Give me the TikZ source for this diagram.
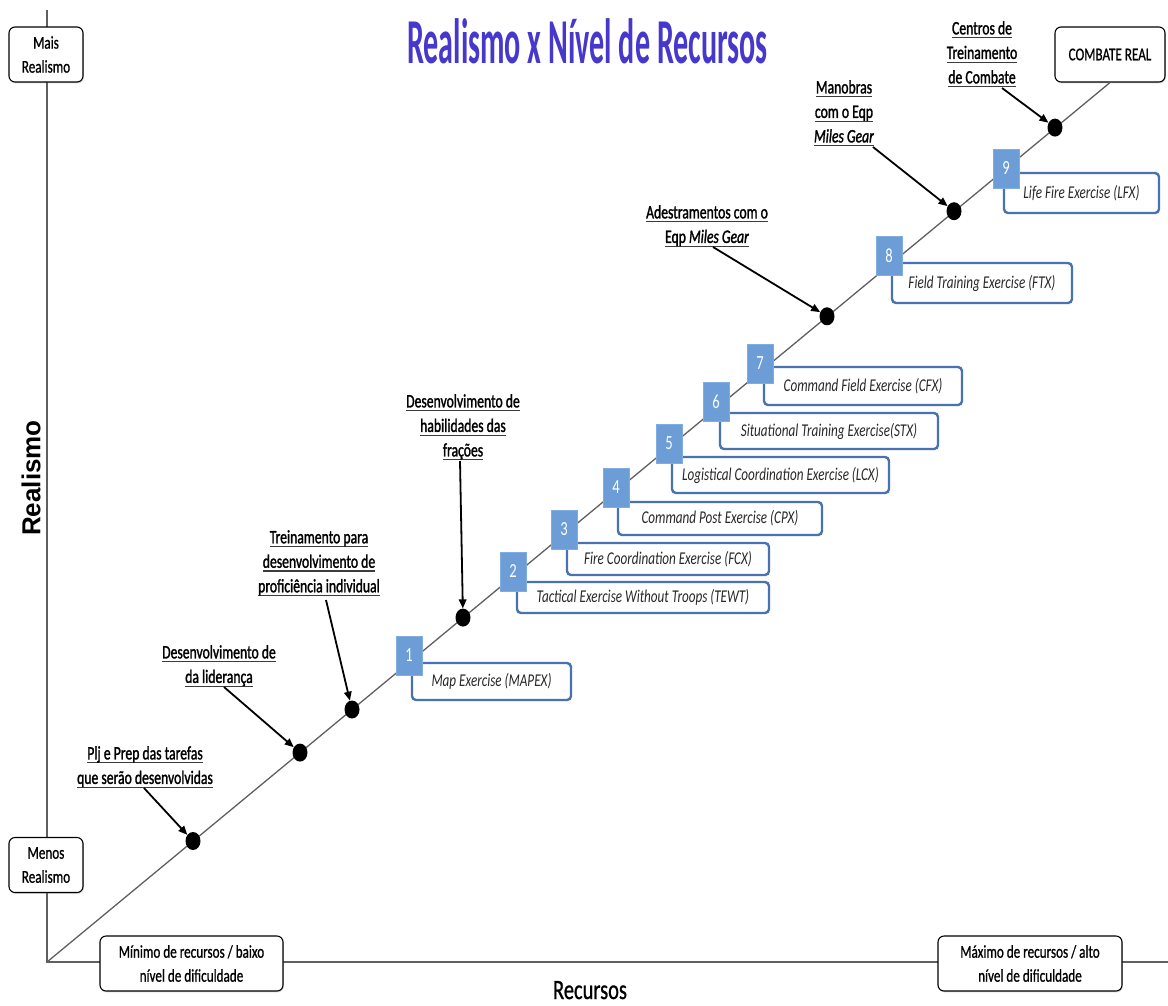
\documentclass[tikz,border=0pt]{standalone}
\usepackage{fontspec}
\setmainfont{Carlito}[FakeStretch=0.73]
\newfontfamily\annfont{Carlito}[FakeStretch=0.72,FakeBold=1.4]
\newfontfamily\boxfont{Carlito}[FakeStretch=0.73,FakeBold=0.8]
\newfontfamily\titlefont{Carlito}[FakeStretch=0.47]
\newfontfamily\axisfont{Liberation Sans}
\usetikzlibrary{arrows.meta,shadows,shapes.geometric}

\definecolor{titleblue}{RGB}{70,55,205}
\definecolor{numfill}{RGB}{108,157,214}
\definecolor{numedge}{RGB}{128,172,224}
\definecolor{labeledge}{RGB}{72,115,176}
\definecolor{labtext}{RGB}{40,40,40}
\definecolor{axisgray}{RGB}{95,95,95}
\definecolor{ulgray}{RGB}{60,60,60}

% underline drawn at a fixed depth below the baseline
\newcommand\ulx[1]{\leavevmode\setbox0\hbox{#1}\rlap{\textcolor{ulgray}{\rule[-4pt]{\wd0}{1.3pt}}}\box0}

\begin{document}
\begin{tikzpicture}[x=1pt,y=-1pt,
  axis/.style={draw=axisgray,line width=1.4pt},
  diag/.style={draw=axisgray,line width=1.3pt},
  endbox/.style={draw=black,line width=1.1pt,rounded corners=6pt,fill=white,
    align=center,inner sep=0pt,font=\boxfont\fontsize{18}{24}\selectfont,
    drop shadow={shadow xshift=0.8pt,shadow yshift=-1.4pt,opacity=0.3}},
  labbox/.style={draw=labeledge,line width=2.4pt,rounded corners=4pt,fill=white,
    inner sep=0pt,text=labtext,font=\itshape\fontsize{18}{20}\selectfont},
  numbox/.style={draw=numedge,line width=0.8pt,fill=numfill,text=white,
    minimum width=26pt,minimum height=39pt,inner sep=0pt,
    font=\fontsize{20}{20}\selectfont},
  dotnode/.style={ellipse,fill=black,minimum width=15pt,minimum height=18pt,inner sep=0pt},
  ptr/.style={draw=black,line width=1.8pt,-{Triangle[length=9pt,width=7.5pt]}},
  ann/.style={align=center,anchor=north,inner sep=0pt,font=\annfont\fontsize{19}{24.5}\selectfont}]
\useasboundingbox (0,0) rectangle (1168,1005);

% axes
\coordinate (o) at (47,962);
\coordinate (ytop) at (47,10);
\coordinate (xend) at (1168,962);
\draw[axis] (ytop) -- (o) -- (xend);

% boxes on the axes
\node[endbox,minimum width=74pt,minimum height=55pt] (mais) at (46,54.5) {Mais\\Realismo};
\node[endbox,minimum width=74pt,minimum height=55pt] (menos) at (46,865) {Menos\\Realismo};
\node[endbox,minimum width=183pt,minimum height=55pt] (minimo) at (191.5,963.5) {Mínimo de recursos / baixo\\nível de dificuldade};
\node[endbox,minimum width=184pt,minimum height=55pt] (maximo) at (1030,963.5) {Máximo de recursos / alto\\nível de dificuldade};
\node[endbox,minimum width=110pt,minimum height=55pt] (combate) at (1110,54.5) {COMBATE REAL};

% rising line
\draw[diag] (o) -- (combate.south);

% numbered exercises
\foreach \n/\cx/\cy/\lx/\ly/\lw/\lh/\t in {
  1/409/655.5/491.5/681.5/159/37/{Map Exercise (MAPEX)},
  2/513/571.5/643/597.5/252/31/{Tactical Exercise Without Troops (TEWT)},
  3/564/529.5/668/559/202/32/{Fire Coordination Exercise (FCX)},
  4/616/487.5/720/518.5/204/33/{Command Post Exercise (CPX)},
  5/669/443.5/780.5/475/217/36/{Logistical Coordination Exercise (LCX)},
  6/716/401.5/829/431/218/36/{Situational Training Exercise(STX)},
  7/760/363.5/863/386/198/38/{Command Field Exercise (CFX)},
  8/889/255.5/982/283/180/40/{Field Training Exercise (FTX)},
  9/1006/168.5/1081.5/193/155/40/{Life Fire Exercise (LFX)}}{
  \node[labbox,minimum width=\lw pt,minimum height=\lh pt] (lab\n) at (\lx,\ly) {\t};
  \node[numbox] (num\n) at (\cx,\cy) {\n};
}

% milestones on the line
\node[dotnode] (d1) at (193,841) {};
\node[dotnode] (d2) at (300,752.6) {};
\node[dotnode] (d3) at (352,709.5) {};
\node[dotnode] (d4) at (463,617.6) {};
\node[dotnode] (d5) at (827,316.3) {};
\node[dotnode] (d6) at (954,211.2) {};
\node[dotnode] (d7) at (1055,127.6) {};

% annotations
\node[ann] (t1) at (145,746) {\ulx{Plj e Prep das tarefas}\\\ulx{que serão desenvolvidas}};
\node[ann] (t2) at (219,645) {\ulx{Desenvolvimento de}\\\ulx{da liderança}};
\node[ann] (t3) at (319,530) {\ulx{Treinamento para}\\\ulx{desenvolvimento de}\\\ulx{proficiência individual}};
\node[ann] (t4) at (463,394) {\ulx{Desenvolvimento de}\\\ulx{habilidades das}\\\ulx{frações}};
\node[ann] (t5) at (707,205) {\ulx{Adestramentos com o}\\\ulx{Eqp \textit{Miles Gear}}};
\node[ann] (t6) at (844,80) {\ulx{Manobras}\\\ulx{com o Eqp}\\\ulx{\textit{Miles Gear}}};
\node[ann] (t7) at (982,21) {\ulx{Centros de}\\\ulx{Treinamento}\\\ulx{de Combate}};

\coordinate (a1) at (144,788);
\coordinate (a2) at (224,687);
\coordinate (a3) at (326,600);
\coordinate (a4) at (460,461);
\coordinate (a5) at (713,247);
\coordinate (a6) at (873,147);
\coordinate (a7) at (1002,88);
\draw[ptr] (a1) -- (d1);
\draw[ptr] (a2) -- (d2);
\draw[ptr] (a3) -- (d3);
\draw[ptr] (a4) -- (d4);
\draw[ptr] (a5) -- (d5);
\draw[ptr] (a6) -- (d6);
\draw[ptr] (a7) -- (d7);

% titles
\node[font=\titlefont\bfseries\fontsize{64}{64}\selectfont,text=titleblue,anchor=base,inner sep=0pt] (title) at (587.5,63) {Realismo x Nível de Recursos};
\node[font=\axisfont\bfseries\fontsize{26}{26}\selectfont,rotate=90,inner sep=0pt] (ylab) at (31,478) {Realismo};
\node[font=\boxfont\fontsize{28}{28}\selectfont,anchor=base,inner sep=0pt] (xlab) at (590,999) {Recursos};
\end{tikzpicture}
\end{document}
